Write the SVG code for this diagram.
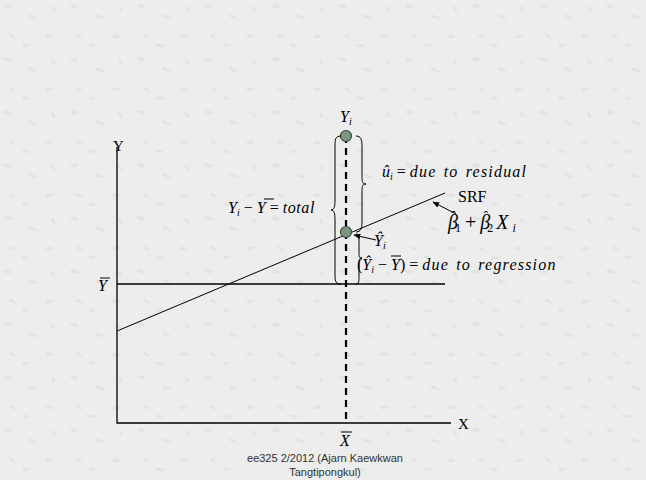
<svg xmlns="http://www.w3.org/2000/svg" width="646" height="480" viewBox="0 0 646 480">
<defs>
<style>
.ax{stroke:#000;stroke-width:1.3;fill:none}
.thin{stroke:#000;stroke-width:1;fill:none}
.t{font-family:"Liberation Serif","Times New Roman",serif;font-size:15px;fill:#000}
.i{font-family:"Liberation Serif","Times New Roman",serif;font-size:16px;font-style:italic;fill:#000}
.n{font-style:normal}
.s{font-size:10px}
.ls{letter-spacing:1.2px;word-spacing:2px}
.foot{font-family:"Liberation Sans",Arial,sans-serif;font-size:11px;fill:#333}
.pt{fill:#7d9682;stroke:#3a4a40;stroke-width:1.2}
</style>
<marker id="ah" viewBox="0 0 10 10" refX="9" refY="5" markerWidth="7" markerHeight="7" orient="auto">
<path d="M0,1 L10,5 L0,9 z" fill="#000"/>
</marker>
<pattern id="tex" width="67" height="53" patternUnits="userSpaceOnUse">
<rect width="67" height="53" fill="#ededed"/>
<path d="M3,5 q6,-2 9,2 q-4,3 -8,0z M28,14 q7,1 10,5 q-6,0 -9,-2z M45,36 q5,-3 9,0 q-3,3 -8,2z M10,34 q5,1 6,5 q-5,-1 -7,-3z M52,6 q4,2 3,6 q-4,-2 -4,-5z M22,44 q6,-1 8,2 q-5,2 -8,0z" fill="#e3e3e3"/>
</pattern>
</defs>
<rect width="646" height="480" fill="url(#tex)"/>
<g id="axes">
<path class="ax" d="M117,147 V423 H451"/>
<text class="t" x="113" y="151">Y</text>
<text class="t" x="458" y="429">X</text>
</g>
<g id="ybar">
<path class="ax" d="M117,284 H445"/>
<text class="i" x="98" y="291">Y</text>
<path class="thin" d="M100,278 H110"/>
</g>
<g id="srf">
<path class="thin" d="M117,331 L445,193"/>
<text class="t" x="458" y="202" style="font-size:16px">SRF</text>
<text class="i" x="448" y="229" style="font-size:20px">β<tspan dx="-8" dy="-8" style="font-size:15px">ˆ</tspan><tspan class="n" dy="11" style="font-size:12px">1</tspan><tspan class="n" dy="-3" dx="4">+</tspan><tspan dx="4">β</tspan><tspan dx="-8" dy="-8" style="font-size:15px">ˆ</tspan><tspan class="n" dy="11" style="font-size:12px">2</tspan><tspan dy="-3" dx="3">X</tspan><tspan dy="3" dx="4" style="font-size:12px">i</tspan></text>
</g>
<g id="xbar">
<path d="M346,136 V423" stroke="#000" stroke-width="2.2" stroke-dasharray="7,5"/>
<text class="i" x="340" y="446">X</text>
<path class="thin" d="M341,432 H352"/>
</g>
<g id="yi">
<circle class="pt" cx="346" cy="136" r="5.5"/>
<text class="i" x="340" y="122">Y<tspan class="s" dy="3">i</tspan></text>
</g>
<g id="yhat">
<circle class="pt" cx="346" cy="232" r="5.5"/>
<text class="i" x="374" y="246">Ŷ<tspan class="s" dy="3">i</tspan></text>
</g>
<g id="connectors">
<path class="thin" d="M456,214 L433,202" marker-end="url(#ah)"/>
<path class="thin" d="M376,240 L354,235" marker-end="url(#ah)"/>
</g>
<g id="braces">
<path class="thin" d="M341,136 C335,136 335,140 335,146 V200 C335,207 334,210 331,210 C334,210 335,213 335,220 V274 C335,280 335,284 341,284"/>
<path class="thin" d="M356,136 C361,136 362,140 362,146 V174 C362,181 362,184 366,184 C362,184 362,187 362,194 V222 C362,228 361,232 356,232"/>
<path class="thin" d="M356,234 C359,234 359,237 359,242 V252 C359,256 359,258 362,258 C359,258 359,260 359,264 V276 C359,281 359,284 356,284"/>
</g>
<g id="labels">
<text class="i" x="382" y="177">û<tspan class="s" dy="3">i</tspan><tspan class="n" dy="-3"> = </tspan><tspan class="ls">due to residual</tspan></text>
<text class="i" x="228" y="213">Y<tspan class="s" dy="3">i</tspan><tspan class="n" dy="-3"> − </tspan>Y<tspan class="n"> = </tspan><tspan letter-spacing="0.6">total</tspan></text>
<path class="thin" d="M264,199 H274"/>
<text class="i" x="357" y="270"><tspan class="n">(</tspan>Ŷ<tspan class="s" dy="3">i</tspan><tspan class="n" dy="-3"> − </tspan>Y<tspan class="n">) = </tspan><tspan class="ls">due to regression</tspan></text>
<path class="thin" d="M391,256 H401"/>
</g>
<g id="footer">
<text class="foot" x="325" y="462" text-anchor="middle">ee325 2/2012 (Ajarn Kaewkwan</text>
<text class="foot" x="325" y="476" text-anchor="middle">Tangtipongkul)</text>
</g>
</svg>
